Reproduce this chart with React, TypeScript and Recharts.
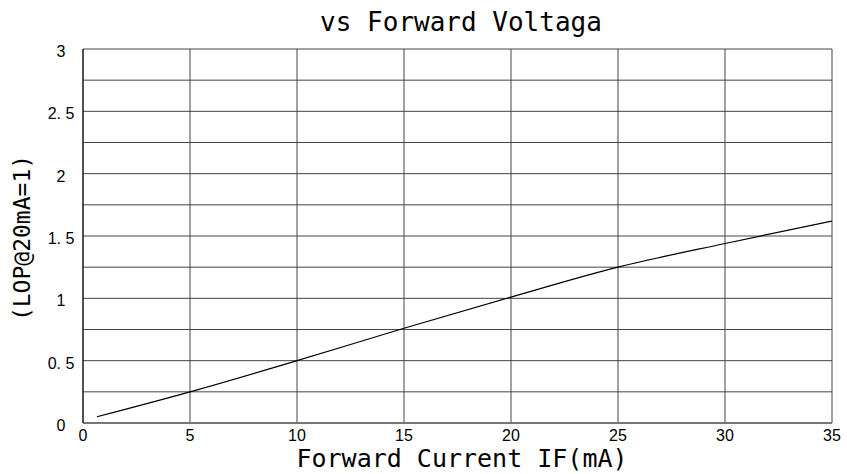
import { LineChart, Line, XAxis, YAxis, CartesianGrid } from "recharts"

const currentMA = [0.65, 5, 10, 15, 20, 25, 30, 35]
const relativeLop = [0.05, 0.25, 0.5, 0.76, 1.01, 1.25, 1.44, 1.62]
const xTicks = [0, 5, 10, 15, 20, 25, 30, 35]
const yTicks = [0, 0.25, 0.5, 0.75, 1, 1.25, 1.5, 1.75, 2, 2.25, 2.5, 2.75, 3]
const yLabels: Record<string, string> = {
  "0": "0",
  "0.5": "0. 5",
  "1": "1",
  "1.5": "1. 5",
  "2": "2",
  "2.5": "2. 5",
  "3": "3",
}

const data = currentMA.map((x, i) => ({ x, y: relativeLop[i] }))

const mono = "'DejaVu Sans Mono', monospace"
const tickFont = "'Liberation Sans', Arial, sans-serif"

function YTick(props: any) {
  const { x, y, payload } = props
  const label = yLabels[String(payload.value)]
  if (!label) return null
  return (
    <text x={x - 14} y={y + 8} textAnchor="middle" fontSize={16} fontFamily={tickFont} fill="#000">
      {label}
    </text>
  )
}

function XTick(props: any) {
  const { x, y, payload } = props
  return (
    <text x={x} y={y + 10} textAnchor="middle" fontSize={16} fontFamily={tickFont} fill="#000">
      {payload.value}
    </text>
  )
}

export default function App() {
  return (
    <div style={{ position: "absolute", left: 0, top: 0, width: 847, height: 474, background: "#fff", overflow: "hidden" }}>
      <div
        style={{
          position: "absolute",
          left: 0,
          width: 922,
          top: 4,
          textAlign: "center",
          fontFamily: mono,
          fontSize: 26,
          lineHeight: "36px",
          color: "#000",
        }}
      >
        vs Forward Voltaga
      </div>
      <LineChart
        width={847}
        height={474}
        data={data}
        margin={{ top: 49, right: 15, left: 23, bottom: 21 }}
      >
        <CartesianGrid stroke="#444" strokeWidth={1} />
        <XAxis
          dataKey="x"
          type="number"
          domain={[0, 35]}
          ticks={xTicks}
          tickLine={false}
          axisLine={{ stroke: "#777", strokeWidth: 2 }}
          tick={<XTick />}
          height={30}
        />
        <YAxis
          type="number"
          domain={[0, 3]}
          ticks={yTicks}
          tickLine={false}
          axisLine={{ stroke: "#000", strokeWidth: 1 }}
          tick={<YTick />}
          interval={0}
          width={60}
        />
        <Line
          dataKey="y"
          type="monotone"
          stroke="#000"
          strokeWidth={1.2}
          dot={false}
          isAnimationActive={false}
        />
      </LineChart>
      <div
        style={{
          position: "absolute",
          left: 0,
          width: 924,
          top: 445,
          textAlign: "center",
          fontFamily: mono,
          fontSize: 25,
          lineHeight: "28px",
          color: "#000",
        }}
      >
        Forward Current IF(mA)
      </div>
      <div
        style={{
          position: "absolute",
          left: 22,
          top: 238,
          transform: "translate(-50%, -50%) rotate(-90deg)",
          whiteSpace: "nowrap",
          fontFamily: mono,
          fontSize: 23,
          lineHeight: "30px",
          color: "#000",
        }}
      >
        (LOP@20mA=1)
      </div>
    </div>
  )
}
